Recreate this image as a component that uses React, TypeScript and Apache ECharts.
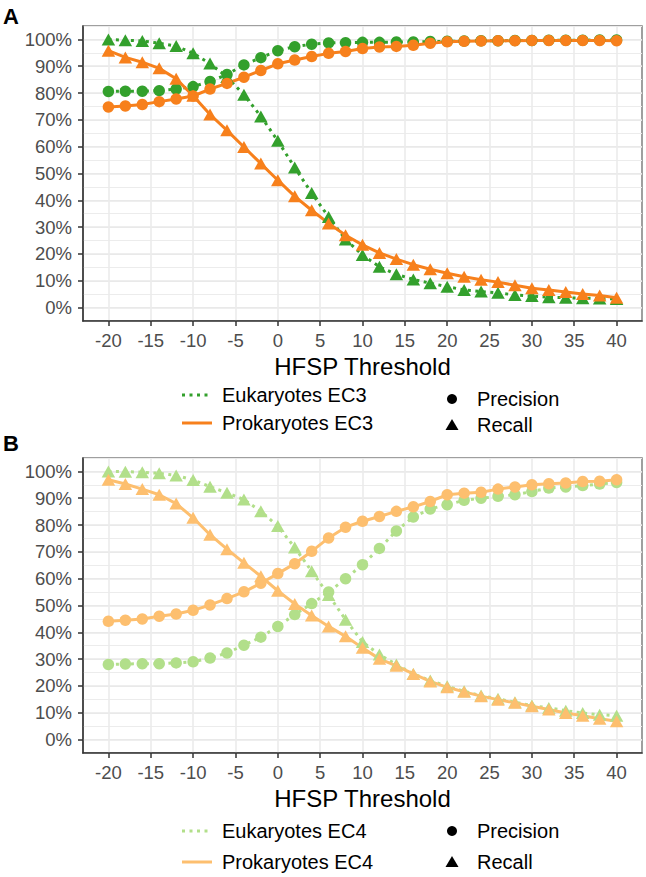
import React, { useEffect, useRef } from "react";
import * as echarts from "echarts";

const thresholds = [-20, -18, -16, -14, -12, -10, -8, -6, -4, -2, 0, 2, 4, 6, 8, 10, 12, 14, 16, 18, 20, 22, 24, 26, 28, 30, 32, 34, 36, 38, 40];

const ec3EukPrecision = [80.6, 80.7, 80.7, 80.9, 81.5, 82.4, 84.3, 86.9, 90.5, 93.2, 95.8, 97.3, 98.2, 98.7, 98.8, 98.9, 98.9, 99.0, 99.0, 99.2, 99.3, 99.4, 99.5, 99.5, 99.6, 99.6, 99.7, 99.7, 99.7, 99.8, 99.8];
const ec3EukRecall = [100, 99.7, 99.4, 98.6, 97.5, 94.8, 91.0, 86.0, 79.4, 71.3, 62.2, 52.2, 42.7, 33.8, 25.4, 19.6, 15.2, 12.4, 10.5, 9.1, 7.8, 6.6, 6.0, 5.5, 4.7, 4.3, 3.9, 3.7, 3.5, 3.4, 3.2];
const ec3ProkPrecision = [74.8, 75.2, 75.7, 76.8, 77.8, 78.9, 81.5, 83.6, 85.9, 88.4, 90.9, 92.3, 93.6, 94.8, 95.5, 96.6, 97.2, 97.4, 97.8, 98.6, 99.1, 99.3, 99.4, 99.5, 99.5, 99.6, 99.6, 99.6, 99.6, 99.6, 99.5];
const ec3ProkRecall = [95.8, 93.3, 91.5, 89.2, 85.3, 79.0, 72.0, 66.1, 59.9, 53.7, 47.5, 41.5, 36.3, 31.4, 27.0, 23.4, 20.4, 18.1, 16.0, 14.3, 12.8, 11.5, 10.4, 9.5, 8.3, 7.2, 6.6, 5.8, 5.1, 4.5, 3.7];

const ec4EukPrecision = [28.0, 28.2, 28.3, 28.3, 28.6, 29.0, 30.4, 32.3, 35.2, 38.2, 42.2, 46.6, 50.7, 55.0, 60.0, 65.2, 71.3, 77.8, 83.0, 86.0, 87.6, 89.2, 90.0, 90.7, 91.3, 92.5, 93.8, 94.2, 94.7, 95.3, 95.9];
const ec4EukRecall = [100, 99.9, 99.7, 99.3, 98.5, 96.8, 94.3, 92.0, 89.5, 85.1, 79.6, 71.6, 62.8, 53.9, 44.7, 36.4, 31.7, 28.0, 24.5, 22.0, 19.9, 18.0, 16.4, 15.2, 13.9, 12.7, 11.8, 10.8, 9.9, 9.3, 8.9];
const ec4ProkPrecision = [44.1, 44.5, 45.0, 46.0, 46.8, 48.2, 50.2, 52.6, 55.1, 58.3, 61.9, 65.6, 70.2, 75.2, 79.2, 81.4, 83.2, 85.1, 86.8, 88.8, 91.3, 91.9, 92.2, 93.4, 94.2, 95.0, 95.4, 95.7, 96.2, 96.3, 96.9];
const ec4ProkRecall = [96.9, 95.3, 93.4, 91.3, 88.0, 82.7, 76.4, 71.0, 65.9, 60.9, 55.5, 50.6, 46.3, 42.2, 38.5, 34.2, 30.1, 27.5, 24.5, 21.7, 19.5, 17.8, 16.2, 14.9, 13.7, 12.4, 11.2, 9.9, 8.9, 7.8, 6.8];

const xTicks = [-20, -15, -10, -5, 0, 5, 10, 15, 20, 25, 30, 35, 40];
const yTicks = [0, 10, 20, 30, 40, 50, 60, 70, 80, 90, 100];

const panelLabels = ["A", "B"];
const xAxisTitle = "HFSP Threshold";
const groupLabelsA = ["Eukaryotes EC3", "Prokaryotes EC3"];
const groupLabelsB = ["Eukaryotes EC4", "Prokaryotes EC4"];
const shapeLabels = ["Precision", "Recall"];

const FONT = "'Liberation Sans', Arial, Helvetica, sans-serif";
const COLORS = {
  a: { euk: "#33a02c", prok: "#f7801c" },
  b: { euk: "#b2df8a", prok: "#fdbf6f" },
};
const DOT = [3, 4.5];

function pairs(vals: number[]) {
  return thresholds.map((t, i) => [t, vals[i]]);
}

export default function App() {
  const ref = useRef<HTMLDivElement>(null);

  useEffect(() => {
    if (!ref.current) return;
    const chart = echarts.init(ref.current, null, { renderer: "svg" });

    const grids = [
      { left: 83, top: 26, width: 559, height: 295 },
      { left: 83, top: 458, width: 559, height: 295 },
    ];

    const xAxes = grids.map((_, g) => ({
      gridIndex: g,
      type: "value",
      min: -23,
      max: 43,
      axisLine: { show: true, onZero: false, lineStyle: { color: "#333333", width: 1.5 } },
      axisTick: { show: true, customValues: xTicks, length: 5, lineStyle: { color: "#333333", width: 1.5 } },
      axisLabel: { customValues: xTicks, color: "#4d4d4d", fontSize: 18.5, margin: 10, fontFamily: FONT },
      splitLine: { show: true, lineStyle: { color: "#ebebeb", width: 1.6 } },
      name: xAxisTitle,
      nameLocation: "middle",
      nameGap: 33,
      nameTextStyle: { fontSize: 24, color: "#000000", fontFamily: FONT },
    }));

    const yAxes: any[] = [];
    grids.forEach((_, g) => {
      yAxes.push({
        gridIndex: g,
        type: "value",
        position: "left",
        min: -5,
        max: 105,
        interval: 5,
        axisLine: { show: false },
        axisTick: { show: false },
        axisLabel: { show: false },
        splitLine: { show: true, lineStyle: { color: "#ececec", width: 1.1 } },
      });
      yAxes.push({
        gridIndex: g,
        type: "value",
        position: "left",
        min: -5,
        max: 105,
        axisLine: { show: true, onZero: false, lineStyle: { color: "#333333", width: 1.5 } },
        axisTick: { show: true, customValues: yTicks, length: 5, lineStyle: { color: "#333333", width: 1.5 } },
        axisLabel: { customValues: yTicks, formatter: "{value}%", color: "#4d4d4d", fontSize: 18.5, margin: 11, fontFamily: FONT },
        splitLine: { show: true, lineStyle: { color: "#e8e8e8", width: 1.7 } },
      });
    });

    const panels = [
      { g: 0, col: COLORS.a, data: [ec3EukPrecision, ec3EukRecall, ec3ProkPrecision, ec3ProkRecall] },
      { g: 1, col: COLORS.b, data: [ec4EukPrecision, ec4EukRecall, ec4ProkPrecision, ec4ProkRecall] },
    ];

    const series: any[] = [];
    panels.forEach((p) => {
      const yIdx = p.g * 2 + 1;
      const defs = [
        { vals: p.data[0], color: p.col.euk, dotted: true, shape: "circle" },
        { vals: p.data[1], color: p.col.euk, dotted: true, shape: "triangle" },
        { vals: p.data[2], color: p.col.prok, dotted: false, shape: "circle" },
        { vals: p.data[3], color: p.col.prok, dotted: false, shape: "triangle" },
      ];
      defs.forEach((d) => {
        series.push({
          type: "line",
          xAxisIndex: p.g,
          yAxisIndex: yIdx,
          data: pairs(d.vals),
          symbol: "none",
          showSymbol: false,
          z: 2,
          lineStyle: { color: d.color, width: 3, type: d.dotted ? DOT : "solid" },
          silent: true,
        });
      });
      defs.forEach((d) => {
        series.push({
          type: "scatter",
          xAxisIndex: p.g,
          yAxisIndex: yIdx,
          data: pairs(d.vals),
          symbol: d.shape,
          symbolSize: d.shape === "circle" ? 11.5 : [13.5, 12],
          z: 3,
          itemStyle: { color: d.color, opacity: 1 },
          silent: true,
        });
      });
    });

    const legendBlocks = [
      { labels: groupLabelsA, col: COLORS.a, lineY: [395, 423], shapeY: [399, 425] },
      { labels: groupLabelsB, col: COLORS.b, lineY: [831, 862], shapeY: [831, 862] },
    ];
    const graphics: any[] = [];
    panelLabels.forEach((lab, i) => {
      graphics.push({
        type: "text",
        left: 3,
        top: i === 0 ? 5 : 432,
        style: { text: lab, fontSize: 22, fontWeight: "bold", fill: "#000", fontFamily: FONT },
      });
    });
    legendBlocks.forEach((b) => {
      b.labels.forEach((lab, i) => {
        const y = b.lineY[i];
        graphics.push({
          type: "line",
          shape: { x1: 182, y1: y, x2: 212, y2: y },
          style: { stroke: i === 0 ? b.col.euk : b.col.prok, lineWidth: 3, lineDash: i === 0 ? DOT : null },
        });
        graphics.push({
          type: "text",
          x: 222,
          y,
          style: { text: lab, fontSize: 20, fill: "#000", fontFamily: FONT, verticalAlign: "middle", align: "left" },
        });
      });
      shapeLabels.forEach((lab, i) => {
        const y = b.shapeY[i];
        if (i === 0) {
          graphics.push({ type: "circle", shape: { cx: 452, cy: y, r: 5 }, style: { fill: "#000" } });
        } else {
          graphics.push({
            type: "polygon",
            shape: { points: [[452, y - 6], [445.5, y + 5], [458.5, y + 5]] },
            style: { fill: "#000" },
          });
        }
        graphics.push({
          type: "text",
          x: 477,
          y,
          style: { text: lab, fontSize: 20, fill: "#000", fontFamily: FONT, verticalAlign: "middle", align: "left" },
        });
      });
    });

    chart.setOption({
      animation: false,
      backgroundColor: "#ffffff",
      textStyle: { fontFamily: FONT },
      grid: grids.map((g) => ({ ...g, show: true, borderColor: "#808080", borderWidth: 1.5, backgroundColor: "transparent" })),
      xAxis: xAxes,
      yAxis: yAxes,
      series,
      graphic: graphics,
    });

    return () => chart.dispose();
  }, []);

  return (
    <div
      ref={ref}
      style={{ position: "fixed", left: 0, top: 0, width: 646, height: 877, background: "#fff" }}
    />
  );
}
